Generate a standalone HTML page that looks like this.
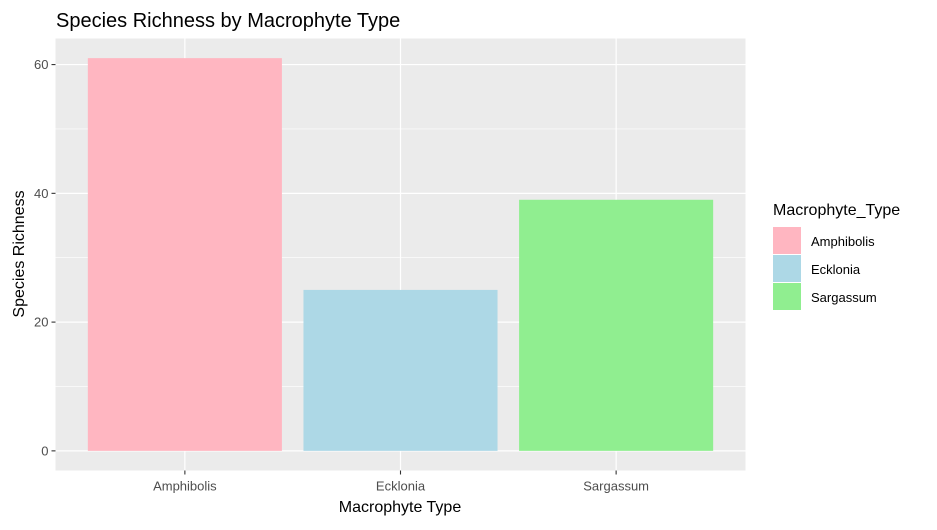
<!DOCTYPE html>
<html><head><meta charset="utf-8">
<style>
body{margin:0;background:#fff;}
svg text{font-family:"Liberation Sans",Arial,sans-serif;}
</style></head>
<body>
<svg id="chart" width="937" height="525" xmlns="http://www.w3.org/2000/svg">
<rect width="937" height="525" fill="#fff"/>
<text x="56" y="27" font-size="20" fill="#000">Species Richness by Macrophyte Type</text>
<g id="panel"></g>
<text x="400" y="512" font-size="16" text-anchor="middle">Macrophyte Type</text>
<text transform="translate(24,254) rotate(-90)" font-size="16" text-anchor="middle">Species Richness</text>
<g id="legend"></g>
</svg>
<script>
const categories = ["Amphibolis","Ecklonia","Sargassum"];
const richness = [61, 25, 39];
const colors = ["#FFB6C1","#ADD8E6","#90EE90"];
const yTicks = [0,20,40,60];

const NS="http://www.w3.org/2000/svg";
const svg=document.getElementById('chart');
const panel=document.getElementById('panel');
const legend=document.getElementById('legend');
const pL=55.5,pR=745.5,pT=38.5,pB=470.5;
const maxV=Math.max(...richness);
const yMin=-0.05*maxV,yMax=maxV*1.05;
function y(v){return pB-(v-yMin)/(yMax-yMin)*(pB-pT);}
const step=(pR-pL)/(categories.length+0.2);
function x(i){return pL+step*(0.6+i);}
function mk(tag,attrs,parent){const e=document.createElementNS(NS,tag);for(const k in attrs)e.setAttribute(k,attrs[k]);(parent||svg).appendChild(e);return e;}

const bg=mk('rect',{x:pL,y:pT,width:pR-pL,height:pB-pT,fill:'#EBEBEB'},panel);


for(let k=0;k<yTicks.length-1;k++){
  const v=(yTicks[k]+yTicks[k+1])/2;
  const l=mk('line',{x1:pL,x2:pR,y1:y(v),y2:y(v),stroke:'#fff','stroke-width':0.6},panel);
  
  
}
yTicks.forEach(v=>{
  const l=mk('line',{x1:pL,x2:pR,y1:y(v),y2:y(v),stroke:'#fff','stroke-width':1.2},panel);
  
  
  const t=mk('line',{x1:pL-4,x2:pL,y1:y(v),y2:y(v),stroke:'#333','stroke-width':1.1});
  
  
  const tx=mk('text',{x:pL-7,y:y(v)+4.5,'font-size':13,fill:'#4D4D4D','text-anchor':'end'});
  tx.textContent=v;
  
  
});
categories.forEach((c,i)=>{
  const cx=x(i);
  const l=mk('line',{x1:cx,x2:cx,y1:pT,y2:pB,stroke:'#fff','stroke-width':1.2},panel);
  
  
});
categories.forEach((c,i)=>{
  const cx=x(i),w=step*0.9;
  const b=mk('rect',{x:cx-w/2,y:y(richness[i]),width:w,height:y(0)-y(richness[i]),fill:colors[i]},panel);
  
  
  const t=mk('line',{x1:cx,x2:cx,y1:pB,y2:pB+4,stroke:'#333','stroke-width':1.1});
  
  
  const tx=mk('text',{x:cx,y:pB+20,'font-size':13,fill:'#4D4D4D','text-anchor':'middle'});
  tx.textContent=c;
  
  
});
const lt=mk('text',{x:773,y:215,'font-size':16,fill:'#000'},legend);
lt.textContent='Macrophyte_Type';


categories.forEach((c,i)=>{
  const yy=227+i*28;
  const g=mk('g',{},legend);
  
  
  mk('rect',{x:773,y:yy,width:28,height:27,fill:colors[i]},g);
  const tx=mk('text',{x:811,y:yy+19,'font-size':13,fill:'#000'},g);
  tx.textContent=c;
});
</script>
</body></html>
